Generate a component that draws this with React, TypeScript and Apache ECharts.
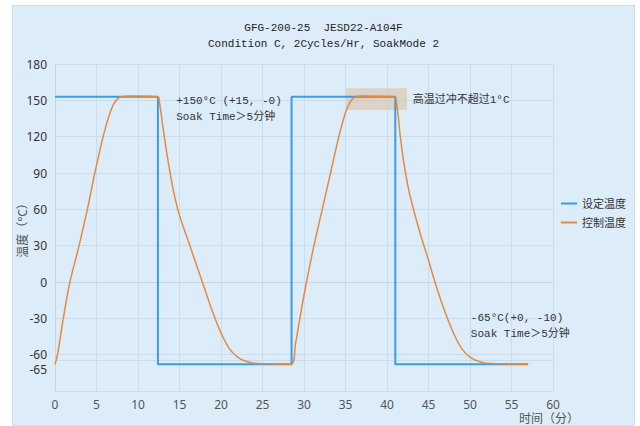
import React, { useEffect, useRef } from "react";
import * as echarts from "echarts";

const titleLine1 = "GFG-200-25  JESD22-A104F";
const titleLine2 = "Condition C, 2Cycles/Hr, SoakMode 2";
const xAxisName = "时间（分）";
const yAxisName = "温度（°C）";
const seriesNames = ["设定温度", "控制温度"];
const yTicks = [-90, -60, -30, 0, 30, 60, 90, 120, 150, 180];

const setTimes = [0, 12.4, 12.4, 28.5, 28.5, 41, 41, 57];
const setTemps = [153, 153, -68, -68, 153, 153, -68, -68];

const ctrlTimes = [
  0, 0.3, 1, 1.8, 2.9, 3.9, 4.8, 5.8, 6.5, 7, 7.5, 8, 9, 12.4,
  12.6, 13, 13.5, 14, 14.5, 15, 16, 17, 18, 19, 20, 21, 22, 23, 24, 26, 28.4,
  29, 29.5, 30.3, 31.2, 32.2, 33.2, 34.2, 35, 35.5, 36, 36.7, 40.8,
  41.2, 41.6, 42, 42.5, 43, 44, 45, 46, 47, 48, 49, 50, 51, 52, 54, 57,
];
const ctrlTemps = [
  -68, -60, -30, 0, 30, 60, 90, 120, 137, 146, 151, 153, 153.5, 153,
  148, 128, 105, 85, 68, 55, 35, 15, -5, -25, -42, -55, -62, -65.5, -67, -67.5, -68,
  -50, -30, 0, 30, 60, 90, 120, 140, 148, 152, 153.5, 153,
  145, 120, 100, 80, 65, 40, 18, -5, -25, -42, -55, -62, -65.5, -67, -67.5, -68,
];

const soakBox = { x0: 35.1, x1: 42.4, y0: 142, y1: 160 };
const notes = [
  { x: 14.6, y: 142.5, text: "+150°C (+15, -0)\nSoak Time＞5分钟" },
  { x: 43.1, y: 150, text: "高温过冲不超过1°C" },
  { x: 50.1, y: -36.5, text: "-65°C(+0, -10)\nSoak Time＞5分钟" },
];
const extraTick = -65;

const monoFont = "'Liberation Mono', 'Noto Sans CJK SC', monospace";
const sansFont = "'Noto Sans', 'Noto Sans CJK SC', sans-serif";

export default function App() {
  const ref = useRef<HTMLDivElement>(null);
  useEffect(() => {
    if (!ref.current) return;
    const chart = echarts.init(ref.current, undefined, { renderer: "svg" });
    chart.setOption({
      animation: false,
      textStyle: { fontFamily: sansFont },
      title: [
        {
          text: titleLine1 + "\n" + titleLine2,
          left: "center",
          top: 9,
          textStyle: {
            fontFamily: monoFont,
            fontSize: 11,
            fontWeight: "normal",
            color: "#222",
            lineHeight: 16,
          },
        },
        {
          text: xAxisName,
          left: 506,
          top: 406,
          padding: 0,
          textStyle: { fontFamily: sansFont, fontSize: 12, fontWeight: "normal", color: "#555", lineHeight: 12 },
        },
      ],
      legend: {
        orient: "vertical",
        right: 3,
        top: 187,
        itemWidth: 16,
        itemHeight: 2,
        itemGap: 8,
        icon: "rect",
        textStyle: { color: "#333", fontSize: 11, fontFamily: sansFont },
        data: seriesNames,
      },
      grid: { left: 42, top: 58, right: 81, bottom: 35, outerBoundsMode: "none", containLabel: false },
      xAxis: {
        type: "value",
        min: 0,
        max: 60,
        interval: 5,
        axisLine: { lineStyle: { color: "#c2d6e6" } },
        axisTick: { show: false },
        axisLabel: { color: "#555", fontSize: 12, margin: 7 },
        splitLine: { lineStyle: { color: "#c9dcea" } },
      },
      yAxis: {
        type: "value",
        min: -90,
        max: 180,
        interval: 30,
        name: yAxisName,
        nameLocation: "middle",
        nameGap: 27,
        nameMoveOverlap: false,
        nameTextStyle: { color: "#555", fontSize: 12 },
        axisLine: { show: true, lineStyle: { color: "#c2d6e6" } },
        axisTick: { show: false },
        axisLabel: {
          color: "#333",
          fontSize: 12,
          margin: 8,
          formatter: (v: number) => (v === yTicks[0] ? "" : String(v)),
        },
        splitLine: { lineStyle: { color: "#c9dcea" } },
      },
      series: [
        {
          name: seriesNames[0],
          type: "line",
          showSymbol: false,
          symbol: "none",
          lineStyle: { color: "#3d9be0", width: 2 },
          itemStyle: { color: "#3d9be0" },
          data: setTimes.map((t, i) => [t, setTemps[i]]),
          markLine: {
            silent: true,
            symbol: "none",
            lineStyle: { color: "#c9dcea", type: "solid", width: 1 },
            label: {
              position: "start",
              distance: 8,
              color: "#333",
              fontSize: 12,
              offset: [0, 9],
              formatter: String(extraTick),
            },
            data: [{ yAxis: extraTick }],
            z: 1,
          },
        },
        {
          name: seriesNames[1],
          type: "line",
          showSymbol: false,
          symbol: "none",
          smooth: 0.4,
          lineStyle: { color: "#e38b3e", width: 1.5 },
          itemStyle: { color: "#e38b3e" },
          data: ctrlTimes.map((t, i) => [t, ctrlTemps[i]]),
          markArea: {
            silent: true,
            itemStyle: { color: "rgba(222, 200, 180, 0.75)" },
            data: [[{ coord: [soakBox.x0, soakBox.y1] }, { coord: [soakBox.x1, soakBox.y0] }]],
          },
          markPoint: {
            symbol: "circle",
            symbolSize: 0,
            silent: true,
            label: {
              show: true,
              position: "right",
              distance: 0,
              color: "#333",
              fontSize: 11,
              lineHeight: 16,
              fontFamily: monoFont,
              align: "left",
            },
            data: notes.map((n) => ({
              coord: [n.x, n.y],
              value: n.text,
              label: { formatter: n.text },
            })),
          },
        },
      ],
    });
    return () => chart.dispose();
  }, []);

  return (
    <div
      style={{
        position: "fixed",
        left: 12,
        top: 5,
        width: 623,
        height: 421,
        background: "#dcedf9",
        border: "1px solid #cbe0f0",
        boxSizing: "border-box",
      }}
    >
      <div ref={ref} style={{ width: 621, height: 420 }} />
    </div>
  );
}
